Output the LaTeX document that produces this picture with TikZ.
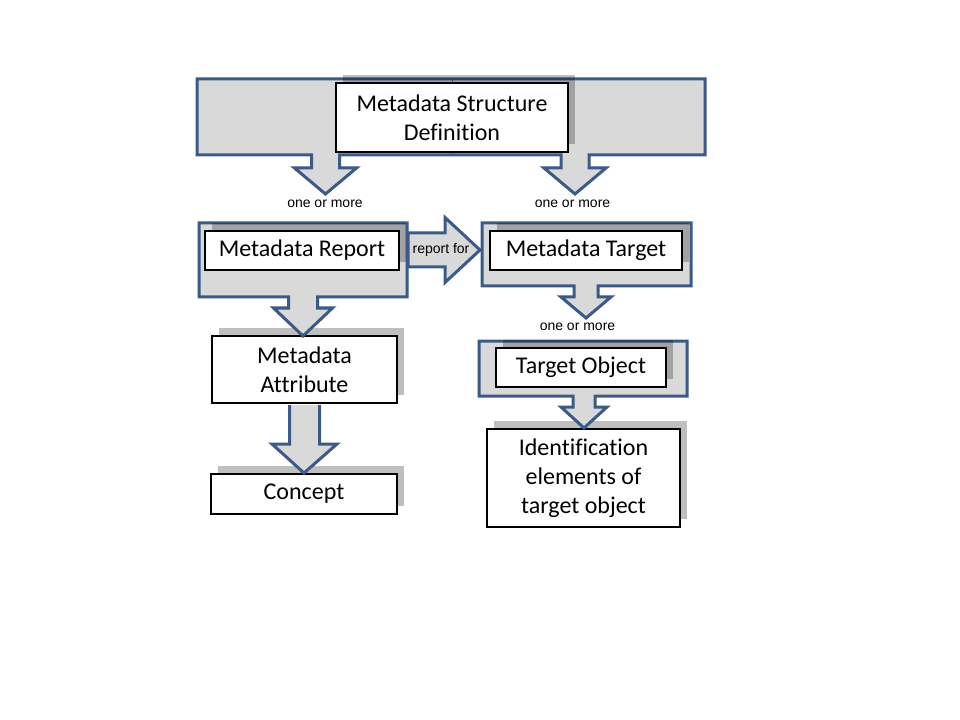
\documentclass[tikz,border=0pt]{standalone}
\usepackage{fontspec}
\setmainfont[Ligatures=NoCommon]{Carlito}
\newfontfamily\labelfont{Liberation Sans}
\usetikzlibrary{calc,shadows}
\definecolor{grpblue}{HTML}{3A5A87}
\definecolor{grpgray}{HTML}{D9D9D9}

\begin{document}
\begin{tikzpicture}[
    x=0.75pt, y=-0.75pt,
    grp/.style={draw=grpblue, fill=grpgray, line width=2.25pt, line join=miter},
    box/.style={rectangle, draw=black, line width=1.5pt, fill=white, inner sep=0pt, align=center,
        font=\fontsize{18}{21.6}\selectfont,
        general shadow={fill=black, opacity=0.25, shadow xshift=5.6pt, shadow yshift=6pt}},
    lbl/.style={font=\labelfont\fontsize{10.5}{12}\selectfont, inner sep=0pt, anchor=base}
]
    \useasboundingbox[fill=white] (0,0) rectangle (960,720);

    % lower boxes
    \node[box, minimum width=144.75pt, minimum height=73.5pt] (ident) at (583.5,478) {Identification\\elements of\\target object};
    \node[box, minimum width=139.5pt, minimum height=30pt] (concept) at (304,494) {Concept};
    \node[box, minimum width=138.75pt, minimum height=50.25pt] (mattr) at (304.5,369.5) {Metadata\\Attribute};

    % attribute -> concept
    \draw[grp] ($(mattr.south)+(-15,1)$) -- ($(mattr.south)+(-15,40)$) -- ($(mattr.south)+(-32.5,40)$)
        -- (concept.north) -- ($(mattr.south)+(32.5,40)$) -- ($(mattr.south)+(15,40)$) -- ($(mattr.south)+(15,1)$);

    % target object group
    \draw[grp] (479,341) -- (687,341) -- (687,396) -- (595,396) -- (595,407) -- (607,407) -- (584,428)
        -- (561,407) -- (573,407) -- (573,396) -- (479,396) -- cycle;
    \node[box, minimum width=127.5pt, minimum height=29.25pt] (tobj) at (581,367.5) {Target Object};

    % report and target groups
    \draw[grp] (199,223) -- (407,223) -- (407,297) -- (317.5,297) -- (317.5,308) -- (332.5,308) -- (303,336)
        -- (273.5,308) -- (288.5,308) -- (288.5,297) -- (199,297) -- cycle;
    \draw[grp] (482,223) -- (691,223) -- (691,286) -- (598,286) -- (598,297) -- (611,297) -- (586,318)
        -- (561,297) -- (574,297) -- (574,286) -- (482,286) -- cycle;
    \node[box, minimum width=145.5pt, minimum height=29.25pt] (mrep) at (302,250.5) {Metadata Report};
    \node[box, minimum width=144pt, minimum height=29.25pt] (mtgt) at (586,250.5) {Metadata Target};

    % report for
    \coordinate (rfL) at (408,250);
    \coordinate (rfR) at (480,250);
    \draw[grp] ($(rfL)+(0,-17)$) -- ($(rfR)+(-35,-17)$) -- ($(rfR)+(-35,-32.5)$) -- (rfR)
        -- ($(rfR)+(-35,32.5)$) -- ($(rfR)+(-35,17)$) -- ($(rfL)+(0,17)$) -- cycle;
    \node[lbl] (rftext) at (441,254) {report for};

    % structure definition group
    \draw[grp] (197,79) -- (705,79) -- (705,155) -- (589,155) -- (589,168) -- (606,168) -- (575,194)
        -- (544,168) -- (561,168) -- (561,155) -- (339.5,155) -- (339.5,168) -- (356.5,168) -- (325.5,194)
        -- (294.5,168) -- (311.5,168) -- (311.5,155) -- (197,155) -- cycle;
    \draw[grpblue, line width=0.6pt] (452,79) -- (452,155);
    \node[box, minimum width=174pt, minimum height=51.75pt] (msd) at (452,117.5) {Metadata Structure\\Definition};

    \node[lbl] (more1) at (325,207.5) {one or more};
    \node[lbl] (more2) at (572.5,207.5) {one or more};
    \node[lbl] (more3) at (577.5,330) {one or more};
\end{tikzpicture}
\end{document}
